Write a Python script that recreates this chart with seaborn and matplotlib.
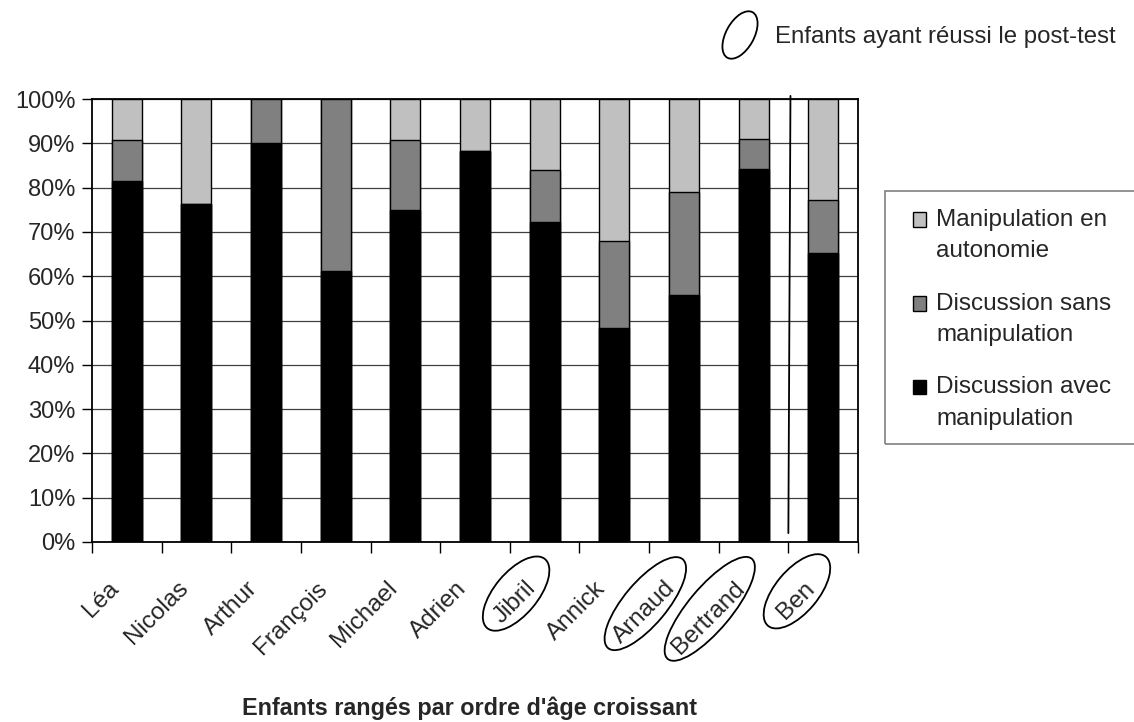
import numpy as np
import pandas as pd
import matplotlib
matplotlib.use("Agg")
import matplotlib.pyplot as plt
from matplotlib.patches import Patch, Ellipse, Rectangle
from matplotlib.legend_handler import HandlerPatch
from matplotlib.transforms import ScaledTranslation
import seaborn as sns

# data (percent of each child's time)
enfants = ["Léa", "Nicolas", "Arthur", "François", "Michael", "Adrien",
           "Jibril", "Annick", "Arnaud", "Bertrand", "Ben"]
avec_manip = [81.5, 76.4, 90.1, 61.2, 75.0, 88.3, 72.2, 48.4, 55.8, 84.1, 65.3]
sans_manip = [9.3, 0.0, 9.9, 38.8, 15.8, 0.0, 11.7, 19.5, 23.2, 6.8, 11.8]
autonomie = [9.2, 23.6, 0.0, 0.0, 9.2, 11.7, 16.1, 32.1, 21.0, 9.1, 22.9]
reussi = ["Jibril", "Arnaud", "Bertrand", "Ben"]

labels = ["Manipulation en\nautonomie", "Discussion sans\nmanipulation",
          "Discussion avec\nmanipulation"]
couleurs = ["#c0c0c0", "#808080", "#000000"]

df = pd.DataFrame({"enfant": enfants, "avec": avec_manip,
                   "sans": sans_manip, "auto": autonomie})
df["h_avec"] = df["avec"]
df["h_sans"] = df["avec"] + df["sans"]
df["h_auto"] = df["h_sans"] + df["auto"]

sns.set_style("white")
plt.rcParams["font.family"] = ["Liberation Sans", "DejaVu Sans"]
FS = 17.5

W, H = 1134, 722
fig = plt.figure(figsize=(W / 100, H / 100), dpi=100)
ax = fig.add_axes([92 / W, 1 - 542 / H, (858 - 92) / W, (542 - 99) / H])

# stacked bars: tallest first
for col, c in zip(["h_auto", "h_sans", "h_avec"], couleurs):
    sns.barplot(data=df, x="enfant", y=col, color=c, width=0.43,
                edgecolor="black", linewidth=1.0, ax=ax, saturation=1,
                zorder=2)

ax.set_xlim(-0.5, len(enfants) - 0.5)
ax.set_ylim(0, 100)
ax.set_xlabel("")
ax.set_ylabel("")
ax.set_yticks(range(0, 101, 10))
ax.set_yticklabels([f"{v}%" for v in range(0, 101, 10)], fontsize=17)
ax.yaxis.grid(True, color="#404040", lw=0.9)
ax.set_axisbelow(True)
for s in ax.spines.values():
    s.set_color("black")
    s.set_linewidth(1.3)
ax.tick_params(axis="y", direction="out", length=7, width=1, color="black",
               left=True, pad=5)

# ticks between categories, labels under the bars
ax.set_xticks(np.arange(-0.5, len(enfants), 1))
ax.set_xticklabels([])
ax.set_xticks(range(len(enfants)), minor=True)
ax.set_xticklabels(enfants, minor=True, fontsize=FS, rotation=45,
                   ha="right", va="center", rotation_mode="anchor")
ax.tick_params(axis="x", which="major", direction="out", length=8, width=1,
               color="black", bottom=True)
ax.tick_params(axis="x", which="minor", length=0, pad=31)
offset = ScaledTranslation(-12 / 100, 0, fig.dpi_scale_trans)
for lab in ax.xaxis.get_minorticklabels():
    lab.set_transform(lab.get_transform() + offset)

# separator line before Ben
ax.plot([9.53, 9.5], [100.7, 2], color="black", lw=1.3, clip_on=False,
        zorder=3)


# legend squares sit on the first line of each label
def carre(legend, orig_handle, xdescent, ydescent, width, height, fontsize):
    return Rectangle((-xdescent, -ydescent + 0.66 * fontsize), width, height)


handles = [Patch(facecolor=c, edgecolor="black", linewidth=1) for c in couleurs]
leg = fig.legend(handles, labels, loc="upper left",
                 bbox_to_anchor=(913 / W, 1 - 209 / H), frameon=False,
                 fontsize=FS, handlelength=0.55, handleheight=0.55,
                 handletextpad=0.4, labelspacing=1.25, borderpad=0,
                 borderaxespad=0,
                 handler_map={Patch: HandlerPatch(patch_func=carre)})
for t in leg.get_texts():
    t.set_linespacing(1.55)
fig.add_artist(Rectangle((885 / W, 1 - 444 / H), (1150 - 885) / W,
                         (444 - 191) / H, transform=fig.transFigure,
                         fill=False, edgecolor="#808080", lw=1.2))

# "réussi" key at the top
fig.add_artist(Ellipse((740 / 100, (H - 35) / 100), 52 / 100, 28 / 100,
                       angle=61, transform=fig.dpi_scale_trans, fill=False,
                       edgecolor="black", lw=1.3))
fig.text(775 / W, 1 - 37 / H, "Enfants ayant réussi le post-test",
         fontsize=17.3, ha="left", va="center")

fig.text(470 / W, 1 - 708 / H, "Enfants rangés par ordre d'âge croissant",
         fontsize=16.8, fontweight="bold", ha="center", va="center")

# circle the labels of the children who passed the post-test
fig.canvas.draw()
r = fig.canvas.get_renderer()
for lab in ax.xaxis.get_minorticklabels():
    if lab.get_text() in reussi:
        bb = lab.get_window_extent(r)
        cx, cy = (bb.x0 + bb.x1) / 2, (bb.y0 + bb.y1) / 2
        hh = 24
        L = bb.width * np.sqrt(2) - hh
        major = max(L + 40, 90)
        fig.add_artist(Ellipse(((cx + 1) / 100, (cy + 9) / 100),
                               major / 100, 43 / 100, angle=50,
                               transform=fig.dpi_scale_trans, fill=False,
                               edgecolor="black", lw=1.3))

fig.savefig("out.png", dpi=100)
